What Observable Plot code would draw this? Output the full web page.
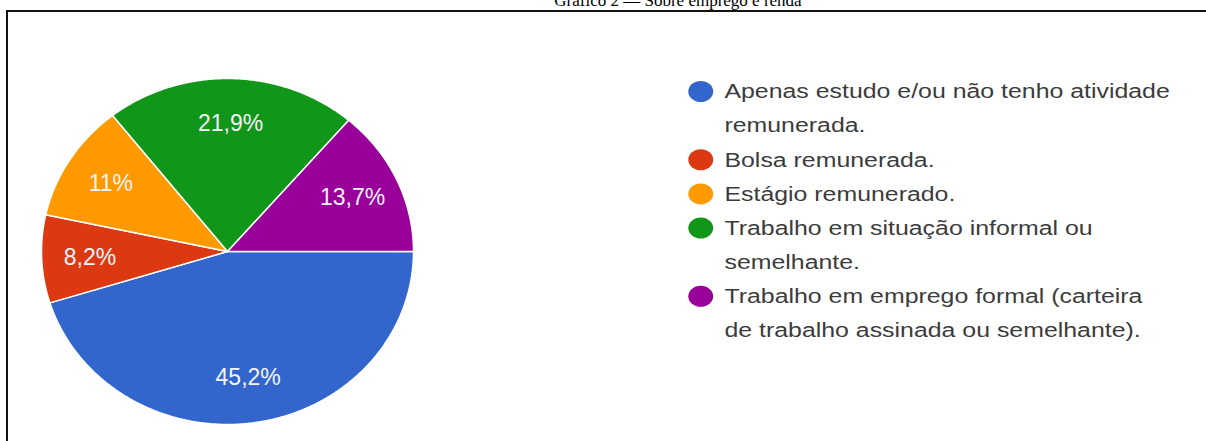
<!DOCTYPE html>
<html>
<head>
<meta charset="utf-8">
<script src="https://cdn.jsdelivr.net/npm/d3@7"></script>
<script src="https://cdn.jsdelivr.net/npm/@observablehq/plot@0.6"></script>
<style>
  html, body { margin: 0; padding: 0; background: #fff; overflow: hidden; }
  #wrap { position: relative; width: 1206px; height: 441px; overflow: hidden; background: #fff; }
  #frame { position: absolute; left: 6px; top: 10px; width: 2000px; height: 600px; border: 2px solid #111; box-sizing: border-box; }
  #title { position: absolute; left: 478px; top: -8px; width: 400px; text-align: center; font: 17px "Liberation Serif", "Times New Roman", serif; color: #000; line-height: 17px; white-space: nowrap; }
  #pie, #legend { position: absolute; left: 0; top: 0; }
  #legend { left: 680px; transform: scaleX(1.185); transform-origin: 0 0; }
</style>
</head>
<body>
<div id="wrap">
  <div id="frame"></div>
  <div id="title">Gráfico 2 — Sobre emprego e renda</div>
  <div id="pie"></div>
  <div id="legend"></div>
</div>
<script>
const categories = [
  "Apenas estudo e/ou não tenho atividade remunerada.",
  "Bolsa remunerada.",
  "Estágio remunerado.",
  "Trabalho em situação informal ou semelhante.",
  "Trabalho em emprego formal (carteira de trabalho assinada ou semelhante)."
];
const values = [45.2, 8.2, 11, 21.9, 13.7];
const sliceLabels = ["45,2%", "8,2%", "11%", "21,9%", "13,7%"];
const colors = ["#3366cc", "#dc3912", "#ff9900", "#109618", "#990099"];
const legendLines = [
  ["Apenas estudo e/ou não tenho atividade", "remunerada."],
  ["Bolsa remunerada."],
  ["Estágio remunerado."],
  ["Trabalho em situação informal ou", "semelhante."],
  ["Trabalho em emprego formal (carteira", "de trabalho assinada ou semelhante)."]
];

const total = d3.sum(values);
let acc = 0;
const wedges = [];
const labelPts = [];
values.forEach((v, i) => {
  const t0 = acc / total, t1 = (acc + v) / total;
  acc += v;
  const pts = [{cat: categories[i], x: 0, y: 0}];
  const n = Math.max(2, Math.ceil((t1 - t0) * 720));
  for (let k = 0; k <= n; k++) {
    const a = 2 * Math.PI * (t0 + (t1 - t0) * k / n);
    pts.push({cat: categories[i], x: Math.cos(a), y: Math.sin(a)});
  }
  wedges.push(...pts);
  const am = 2 * Math.PI * (t0 + t1) / 2;
  labelPts.push({cat: categories[i], label: sliceLabels[i], x: 0.74 * Math.cos(am), y: 0.74 * Math.sin(am)});
});

const pie = Plot.plot({
  width: 1206, height: 441,
  margin: 0,
  x: {domain: [-1, 1], range: [41, 413], axis: null},
  y: {domain: [-1, 1], range: [78, 424], axis: null},
  color: {domain: categories, range: colors},
  style: {background: "transparent", overflow: "visible"},
  marks: [
    Plot.line(wedges, {x: "x", y: "y", z: "cat", fill: "cat", stroke: "#fff", strokeWidth: 1.5, curve: "linear-closed"}),
    Plot.text(labelPts, {x: "x", y: "y", text: "label", fill: "#f2f4f8", fontSize: 23, fontFamily: "Liberation Sans, Arial, sans-serif"})
  ]
});
document.getElementById("pie").appendChild(pie);

const rows = [];
let line = 0;
const dots = [];
legendLines.forEach((ls, i) => {
  dots.push({cat: categories[i], row: line});
  ls.forEach(t => { rows.push({row: line, text: t}); line++; });
});

const legend = Plot.plot({
  width: 526, height: 441,
  margin: 0,
  x: {domain: [0, 1], range: [17, 37], axis: null},
  y: {domain: [0, 7], range: [91, 330], axis: null},
  color: {domain: categories, range: colors},
  style: {background: "transparent", overflow: "visible"},
  marks: [
    Plot.dot(dots, {x: () => 0, y: "row", r: 10.5, fill: "cat"}),
    Plot.text(rows, {x: () => 1, y: "row", text: "text", textAnchor: "start", fill: "#3c3c3c", fontSize: 21, fontFamily: "Liberation Sans, Arial, sans-serif"})
  ]
});
document.getElementById("legend").appendChild(legend);
</script>
</body>
</html>
